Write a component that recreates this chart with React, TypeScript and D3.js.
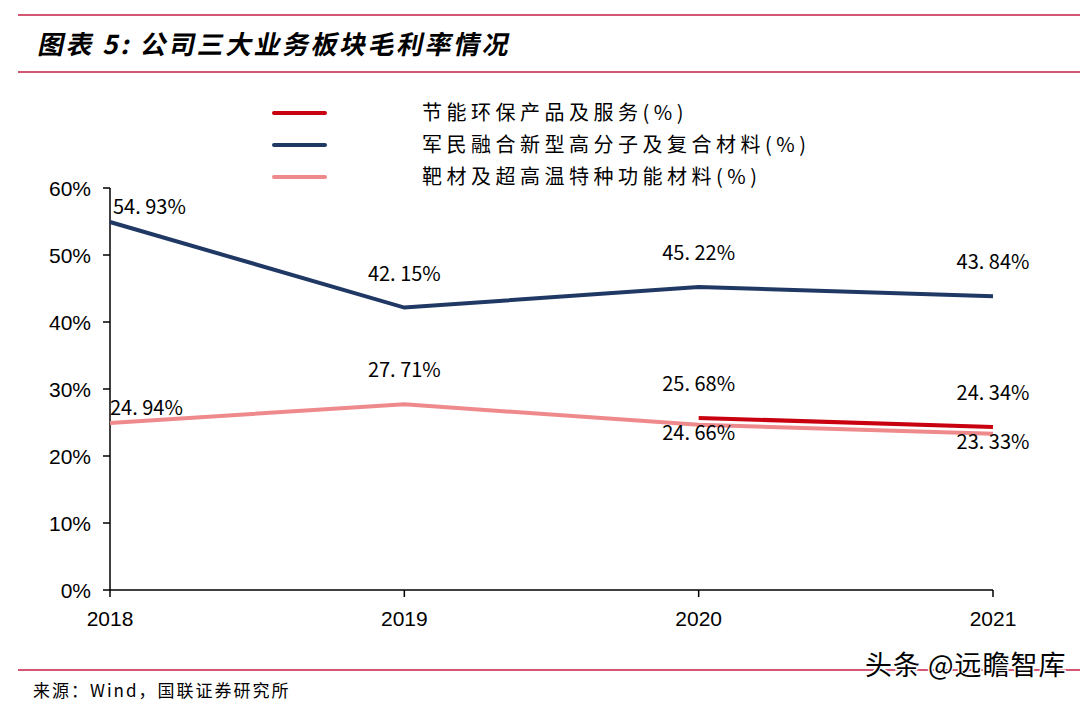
import React from "react";
import * as d3 from "d3";

const years = ["2018", "2019", "2020", "2021"];
const seriesNames = [
  "节能环保产品及服务(%)",
  "军民融合新型高分子及复合材料(%)",
  "靶材及超高温特种功能材料(%)",
];
const energyValues: (number | null)[] = [null, null, 25.68, 24.34];
const polymerValues: (number | null)[] = [54.93, 42.15, 45.22, 43.84];
const targetValues: (number | null)[] = [24.94, 27.71, 24.66, 23.33];
const yTicks = [0, 10, 20, 30, 40, 50, 60];
const colors = ["#c8000f", "#1f3864", "#ee8a8c"];

export default function App() {
  const W = 1080, H = 712;
  const x = d3.scalePoint<string>().domain(years).range([110, 993]);
  const y = d3.scaleLinear().domain([0, 60]).range([590, 188]);
  const line = d3
    .line<number | null>()
    .defined((d) => d !== null)
    .x((_, i) => x(years[i]) as number)
    .y((d) => y(d as number));

  const fmt = (v: number) => v.toFixed(2).replace(".", ". ") + "%";
  const labelFont = "'Noto Sans CJK SC', 'Noto Sans', sans-serif";
  const axisFont = "Arial, 'Liberation Sans', sans-serif";

  const polyLabels = polymerValues.map((v, i) => ({
    v: v as number,
    i,
    dx: i === 0 ? 3 : 0,
    dy: i === 0 ? -15 : -34,
    anchor: i === 0 ? "start" : "middle",
  }));
  const targetLabels = targetValues.map((v, i) => ({
    v: v as number,
    i,
    dx: 0,
    dy: i === 0 ? -15 : i === 1 ? -34 : 8,
    anchor: i === 0 ? "start" : "middle",
  }));
  const energyLabels = energyValues
    .map((v, i) => ({ v, i }))
    .filter((d) => d.v !== null)
    .map((d) => ({ v: d.v as number, i: d.i, dx: 0, dy: -34, anchor: "middle" }));

  const allLabels = [...polyLabels, ...targetLabels, ...energyLabels];

  return (
    <svg width={W} height={H} style={{ position: "absolute", left: 0, top: 0, background: "#fff" }}>
      <rect x={0} y={0} width={W} height={H} fill="#fff" />
      <line x1={18} x2={1080} y1={15} y2={15} stroke="#c41e45" strokeWidth={1.5} />
      <line x1={18} x2={1080} y1={72} y2={72} stroke="#c41e45" strokeWidth={1.5} />
      <text
        x={37}
        y={54}
        fontFamily="'Noto Sans CJK SC', sans-serif"
        fontWeight="bold"
        fontSize={26}
        letterSpacing={2.5}
        fill="#000"
        transform="translate(37 54) skewX(-12) translate(-37 -54)"
      >
        图表 5:  公司三大业务板块毛利率情况
      </text>

      {seriesNames.map((n, i) => (
        <g key={n}>
          <line x1={274} x2={325} y1={113 + i * 32} y2={113 + i * 32} stroke={colors[i]} strokeWidth={4} strokeLinecap="round" />
          <text x={422} y={120 + i * 32} fontFamily={labelFont} fontSize={20} letterSpacing={4.5} fill="#000">
            {n}
          </text>
        </g>
      ))}

      <line x1={110} x2={110} y1={y(60)} y2={y(0)} stroke="#000" strokeWidth={1.5} />
      {yTicks.map((t) => (
        <g key={t}>
          <line x1={103} x2={110} y1={y(t)} y2={y(t)} stroke="#000" strokeWidth={1.5} />
          <text x={91} y={y(t) + 8} textAnchor="end" fontFamily={axisFont} fontSize={21} fill="#000">
            {t}%
          </text>
        </g>
      ))}
      <line x1={110} x2={993} y1={y(0)} y2={y(0)} stroke="#000" strokeWidth={1.5} />
      {years.map((yr) => (
        <g key={yr}>
          <line x1={x(yr)} x2={x(yr)} y1={y(0)} y2={y(0) + 7} stroke="#000" strokeWidth={1.5} />
          <text x={x(yr)} y={626} textAnchor="middle" fontFamily={axisFont} fontSize={21} fill="#000">
            {yr}
          </text>
        </g>
      ))}

      <path d={line(targetValues) || ""} fill="none" stroke={colors[2]} strokeWidth={4} />
      <path d={line(polymerValues) || ""} fill="none" stroke={colors[1]} strokeWidth={4} />
      <path d={line(energyValues) || ""} fill="none" stroke={colors[0]} strokeWidth={4} />

      {allLabels.map((l, k) => (
        <text
          key={k}
          x={(x(years[l.i]) as number) + l.dx}
          y={y(l.v) + l.dy + 7}
          textAnchor={l.anchor as any}
          fontFamily={labelFont}
          fontSize={20}
          fill="#000"
        >
          {fmt(l.v)}
        </text>
      ))}

      <line x1={18} x2={1080} y1={670} y2={670} stroke="#c41e45" strokeWidth={1.5} />
      <text x={33} y={697} fontFamily={labelFont} fontSize={17} letterSpacing={2} fill="#000">
        来源：Wind，国联证券研究所
      </text>
      <text
        x={865}
        y={675}
        fontFamily={labelFont}
        fontSize={27}
        letterSpacing={1}
        fill="#000"
        stroke="#fff"
        strokeWidth={3}
        paintOrder="stroke"
      >
        头条 @远瞻智库
      </text>
    </svg>
  );
}
